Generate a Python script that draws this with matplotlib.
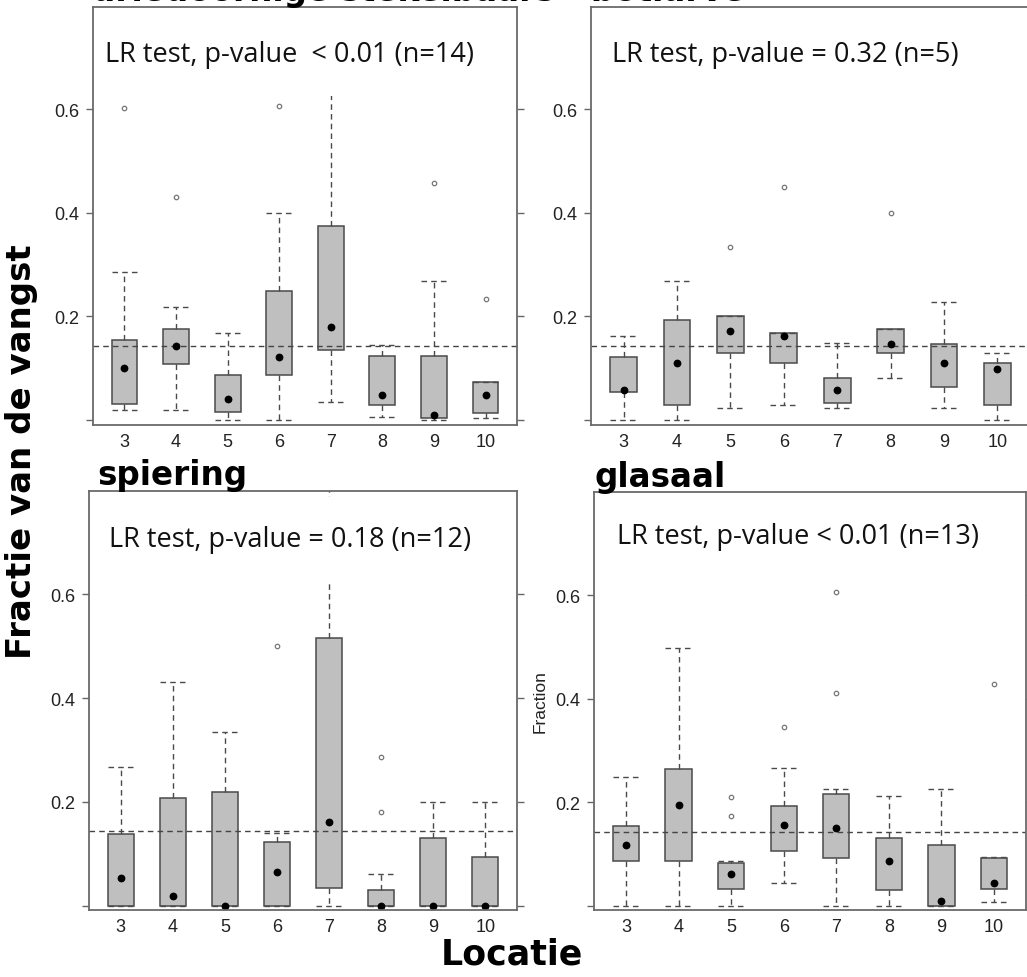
import matplotlib
matplotlib.use('agg')
import matplotlib.pyplot as plt

plt.rcParams['font.family'] = ['Liberation Sans', 'DejaVu Sans']

# locaties op de x-as
locaties = [3, 4, 5, 6, 7, 8, 9, 10]
gemiddelde = 0.143  # stippellijn: gelijke verdeling over de locaties

# driedoornige stekelbaars (linksboven)
stek_q1 = [0.031, 0.108, 0.016, 0.086, 0.135, 0.028, 0.004, 0.013]
stek_q3 = [0.155, 0.176, 0.087, 0.249, 0.374, 0.124, 0.124, 0.073]
stek_lo = [0.019, 0.019, 0.0, 0.0, 0.035, 0.005, 0.0, 0.004]
stek_hi = [0.285, 0.218, 0.169, 0.399, 0.70, 0.145, 0.268, 0.073]
stek_dot = [0.100, 0.142, 0.041, 0.122, 0.180, 0.048, 0.010, 0.049]
stek_out = [[0.602], [0.430], [], [0.606], [], [], [0.457], [0.233]]

# botlarve (rechtsboven)
bot_q1 = [0.055, 0.029, 0.129, 0.111, 0.032, 0.129, 0.064, 0.029]
bot_q3 = [0.121, 0.194, 0.200, 0.169, 0.082, 0.175, 0.146, 0.111]
bot_lo = [0.0, 0.0, 0.024, 0.029, 0.024, 0.082, 0.024, 0.0]
bot_hi = [0.162, 0.268, 0.200, 0.169, 0.149, 0.175, 0.228, 0.129]
bot_dot = [0.058, 0.111, 0.172, 0.162, 0.058, 0.147, 0.111, 0.098]
bot_out = [[], [], [0.334], [0.450], [], [0.399], [], []]

# spiering (linksonder)
spi_q1 = [0.0, 0.0, 0.0, 0.0, 0.035, 0.0, 0.0, 0.0]
spi_q3 = [0.138, 0.208, 0.219, 0.123, 0.516, 0.031, 0.131, 0.094]
spi_lo = [0.0, 0.0, 0.0, 0.0, 0.0, 0.0, 0.0, 0.0]
spi_hi = [0.268, 0.431, 0.334, 0.141, 0.85, 0.062, 0.200, 0.200]
spi_dot = [0.053, 0.019, 0.0, 0.065, 0.162, 0.0, 0.0, 0.0]
spi_out = [[], [], [], [0.501], [], [0.287, 0.181], [], []]

# glasaal (rechtsonder)
gla_q1 = [0.086, 0.086, 0.033, 0.106, 0.092, 0.030, 0.0, 0.033]
gla_q3 = [0.154, 0.264, 0.083, 0.193, 0.216, 0.130, 0.117, 0.092]
gla_lo = [0.0, 0.0, 0.0, 0.044, 0.0, 0.0, 0.0, 0.007]
gla_hi = [0.248, 0.497, 0.086, 0.266, 0.226, 0.212, 0.225, 0.094]
gla_dot = [0.117, 0.195, 0.062, 0.155, 0.150, 0.086, 0.009, 0.044]
gla_out = [[], [], [0.210, 0.173], [0.345], [0.605, 0.410], [], [], [0.428]]

lr_teksten = ["LR test, p-value  < 0.01 (n=14)",
              "LR test, p-value = 0.32 (n=5)",
              "LR test, p-value = 0.18 (n=12)",
              "LR test, p-value < 0.01 (n=13)"]

W, H = 1027, 978
fig = plt.figure(figsize=(W / 100, H / 100), dpi=100)


def px_axes(left, top, right, bottom):
    # pixelranden -> figuurfracties
    return [left / W, 1 - bottom / H, (right - left) / W, (bottom - top) / H]


def panel(rect, q1, q3, lo, hi, dot, out, ylim):
    ax = fig.add_axes(rect)
    stats = []
    for i in range(len(locaties)):
        stats.append(dict(q1=q1[i], q3=q3[i], med=dot[i], mean=dot[i],
                          whislo=lo[i], whishi=hi[i], fliers=out[i]))
    dash = (0, (4, 3))
    ax.bxp(stats, positions=locaties, widths=0.5, capwidths=0.5,
           patch_artist=True, showmeans=True,
           boxprops=dict(facecolor='#bfbfbf', edgecolor='#4a4a4a', linewidth=1.1),
           whiskerprops=dict(color='#4a4a4a', linestyle=dash, linewidth=1),
           capprops=dict(color='#4a4a4a', linestyle=dash, linewidth=1),
           medianprops=dict(linewidth=0),
           meanprops=dict(marker='o', markerfacecolor='black',
                          markeredgecolor='black', markersize=4.6),
           flierprops=dict(marker='o', markerfacecolor='white',
                           markeredgecolor='#777777', markersize=3.2,
                           markeredgewidth=0.9))
    ax.axhline(gemiddelde, color='#444444', linestyle=(0, (4, 3)), linewidth=1)
    ax.set_xlim(2.39, 10.61)
    ax.set_ylim(*ylim)
    ax.set_xticks(locaties)
    ax.set_xticklabels([str(l) for l in locaties])
    ax.set_yticks([0, 0.2, 0.4, 0.6])
    ax.set_yticklabels(['', '0.2', '0.4', '0.6'])
    ax.tick_params(axis='x', length=0, pad=6, labelsize=13, labelcolor='#222222')
    ax.tick_params(axis='y', length=5, width=1, color='#666666', pad=5,
                   labelsize=13, labelcolor='#222222', right=True, direction='out')
    for s in ax.spines.values():
        s.set_color('#6a6a6a')
        s.set_linewidth(1.3)
    return ax


ax_tl = panel(px_axes(93, 8, 517, 426), stek_q1, stek_q3, stek_lo, stek_hi,
              stek_dot, stek_out, (-0.0097, 0.798))
ax_tr = panel(px_axes(591, 8, 1030, 426), bot_q1, bot_q3, bot_lo, bot_hi,
              bot_dot, bot_out, (-0.0097, 0.798))
ax_bl = panel(px_axes(89, 492, 517, 911), spi_q1, spi_q3, spi_lo, spi_hi,
              spi_dot, spi_out, (-0.0083, 0.799))
ax_br = panel(px_axes(594, 493, 1026, 911), gla_q1, gla_q3, gla_lo, gla_hi,
              gla_dot, gla_out, (-0.0083, 0.799))

# tekstvakken met witte achtergrond (zoals geplakte tekstvakken)
tekst_pos = [(105, 55), (612, 55), (109, 540), (617, 537)]
for ax, txt, (x, y) in zip([ax_tl, ax_tr, ax_bl, ax_br], lr_teksten, tekst_pos):
    ax.text(x / W, 1 - y / H, txt, transform=fig.transFigure, family='Open Sans',
            fontsize=19.5, va='center', ha='left', color='#111111', zorder=2.2,
            bbox=dict(facecolor='white', edgecolor='none',
                      boxstyle='square,pad=1.05'))

# titels
fig.text(92 / W, 1 - 1 / H, "driedoornige stekelbaars - botlarve",
         family='DejaVu Sans', fontsize=23.5, fontweight='bold',
         va='baseline', ha='left')
fig.text(97 / W, 1 - 485 / H, "spiering", family='DejaVu Sans', fontsize=23.5,
         fontweight='bold', va='baseline', ha='left')
fig.text(595 / W, 1 - 487 / H, "glasaal", family='DejaVu Sans', fontsize=23.5,
         fontweight='bold', va='baseline', ha='left')

fig.text(22 / W, 1 - 452 / H, "Fractie van de vangst", family='DejaVu Sans',
         fontsize=24.5, fontweight='bold', rotation=90, va='center', ha='center')
fig.text(512 / W, 1 - 955 / H, "Locatie", family='DejaVu Sans', fontsize=25,
         fontweight='bold', va='center', ha='center')
fig.text(540 / W, 1 - 702 / H, "Fraction", fontsize=12.5, rotation=90,
         va='center', ha='center', color='#222222')

fig.savefig('out.png', dpi=100)
